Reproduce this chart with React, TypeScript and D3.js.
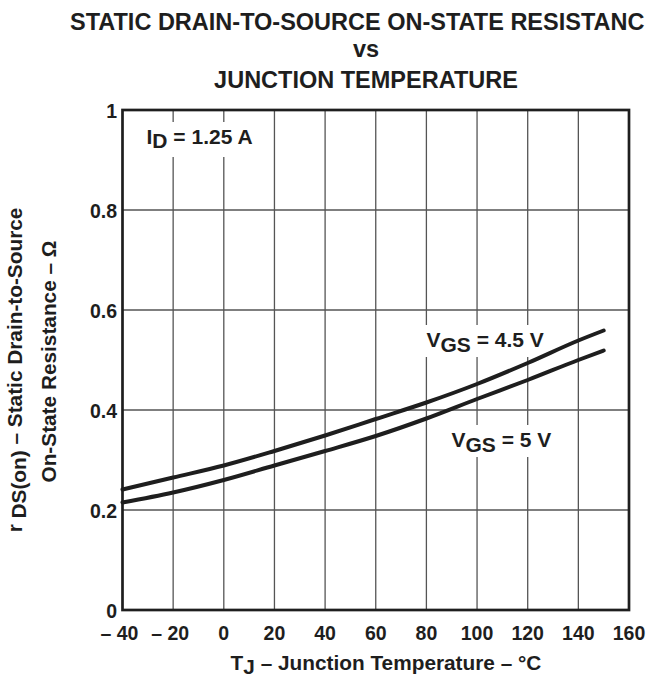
import React from "react";
import * as d3 from "d3";

// values
const temps = [-40, -20, 0, 20, 40, 60, 80, 100, 120, 140, 150];
const vgs45 = [0.241, 0.265, 0.289, 0.318, 0.349, 0.382, 0.415, 0.452, 0.494, 0.539, 0.559];
const vgs5 = [0.215, 0.235, 0.26, 0.289, 0.318, 0.348, 0.383, 0.422, 0.46, 0.5, 0.519];

const xTicks = [-40, -20, 0, 20, 40, 60, 80, 100, 120, 140, 160];
const yTicks = [0, 0.2, 0.4, 0.6, 0.8, 1];
const yTickLabels = ["0", "0.2", "0.4", "0.6", "0.8", "1"];

const W = 652;
const H = 677;
const left = 122.5;
const right = 629;
const top = 110;
const bottom = 610;

const font = "'Liberation Sans', Arial, sans-serif";
const ink = "#1e1e1e";

const App = () => {
  const x = d3.scaleLinear().domain([-40, 160]).range([left, right]);
  const y = d3.scaleLinear().domain([0, 1]).range([bottom, top]);

  const line = d3
    .line<number>()
    .x((d, i) => x(temps[i]))
    .y((d) => y(d))
    .curve(d3.curveMonotoneX);

  // white boxes behind the labels (gridlines are broken there)
  const boxes = [
    { x: 138, y: 122, w: 124, h: 35 },
    { x: 418, y: 325, w: 134, h: 32 },
    { x: 444, y: 425, w: 114, h: 32 },
  ];

  return (
    <svg
      width={W}
      height={H}
      style={{ position: "absolute", left: 0, top: 0, background: "#fff" }}
      fontFamily={font}
      fontWeight="bold"
    >
      {/* title */}
      <g fill={ink} fontSize={23.5}>
        <text x={70} y={30}>STATIC DRAIN-TO-SOURCE ON-STATE RESISTANC</text>
        <text x={366} y={57} textAnchor="middle">vs</text>
        <text x={366} y={88} textAnchor="middle">JUNCTION TEMPERATURE</text>
      </g>

      {/* grid */}
      <g stroke="#555" strokeWidth={1.3}>
        {xTicks.slice(1, -1).map((t) => (
          <line key={"v" + t} x1={x(t)} x2={x(t)} y1={top} y2={bottom} />
        ))}
        {yTicks.slice(1, -1).map((t) => (
          <line key={"h" + t} x1={left} x2={right} y1={y(t)} y2={y(t)} />
        ))}
      </g>
      {boxes.map((b, i) => (
        <rect key={i} x={b.x} y={b.y} width={b.w} height={b.h} fill="#fff" />
      ))}

      {/* curves */}
      <g fill="none" stroke={ink} strokeWidth={4} strokeLinecap="round">
        <path d={line(vgs45) ?? ""} />
        <path d={line(vgs5) ?? ""} />
      </g>

      {/* frame */}
      <rect
        x={left}
        y={top}
        width={right - left}
        height={bottom - top}
        fill="none"
        stroke={ink}
        strokeWidth={2.7}
      />

      {/* tick labels */}
      <g fill={ink} fontSize={19.5}>
        {yTicks.map((t, i) => (
          <text key={"yl" + t} x={117} y={y(t) + 8} textAnchor="end">
            {yTickLabels[i]}
          </text>
        ))}
        {xTicks.map((t) => (
          <text key={"xl" + t} x={x(t) - (t < 0 ? 3 : 0)} y={640} textAnchor="middle">
            {t < 0 ? "\u2013 " + Math.abs(t) : String(t)}
          </text>
        ))}
      </g>

      {/* annotations */}
      <g fill={ink} fontSize={21}>
        <text x={146.5} y={144}>
          I<tspan dy={4}>D</tspan>
          <tspan dy={-4}> = 1.25 A</tspan>
        </text>
        <text x={426.5} y={346.5}>
          V<tspan dy={5}>GS</tspan>
          <tspan dy={-5}> = 4.5 V</tspan>
        </text>
        <text x={451.5} y={446.5}>
          V<tspan dy={5}>GS</tspan>
          <tspan dy={-5}> = 5 V</tspan>
        </text>
      </g>

      {/* axis titles */}
      <g fill={ink} fontSize={20.8}>
        <text x={386} y={670} textAnchor="middle">
          T<tspan dy={4}>J</tspan>
          <tspan dy={-4}> {"\u2013"} Junction Temperature {"\u2013"} {"\u00b0"}C</tspan>
        </text>
        <text transform="translate(22,370) rotate(-90)" textAnchor="middle">
          r <tspan dy={4}>DS(on)</tspan>
          <tspan dy={-4}> {"\u2013"} Static Drain-to-Source</tspan>
        </text>
        <text transform="translate(56,361.5) rotate(-90)" textAnchor="middle">
          On-State Resistance {"\u2013"} {"\u03a9"}
        </text>
      </g>
    </svg>
  );
};

export default App;
